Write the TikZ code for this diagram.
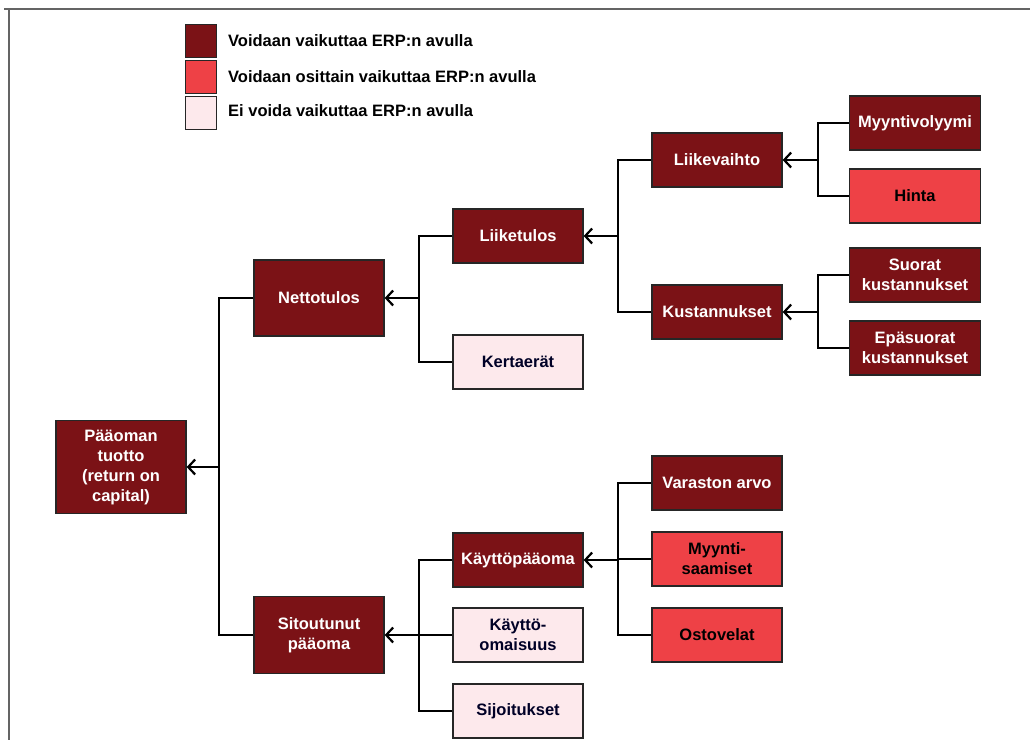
\documentclass[tikz,border=0pt]{standalone}
\usepackage{fontspec}
\setmainfont{Liberation Sans}
\usetikzlibrary{arrows.meta}

\definecolor{erpdark}{RGB}{123,18,22}
\definecolor{erppart}{RGB}{238,65,70}
\definecolor{erpnone}{RGB}{253,233,236}
\definecolor{framegray}{RGB}{100,100,100}

\tikzset{
  box/.style={draw=black!85, line width=1.3pt, minimum width=130pt, minimum height=54pt,
    align=center, inner sep=2pt, font=\fontsize{16.5}{20}\selectfont\bfseries},
  full/.style={box, fill=erpdark, text=white},
  part/.style={box, fill=erppart, text=black},
  none/.style={box, fill=erpnone, text=black!85!blue},
  legbox/.style={draw=black!85, line width=1.3pt, minimum width=31pt, minimum height=33pt, inner sep=0pt},
  legtext/.style={anchor=west, inner sep=0pt, font=\fontsize{16.5}{20}\selectfont\bfseries},
  link/.style={line width=2.2pt},
  feed/.style={line width=2.2pt, -{Straight Barb[length=7pt,width=15pt,line width=2.2pt]}},
}

\begin{document}
\begin{tikzpicture}[x=1pt, y=-1pt]
    \useasboundingbox (0,0) rectangle (1030,740);
    \draw[framegray, line width=2.5pt] (4,9) -- (1030,9);
    \draw[framegray, line width=2.5pt] (9,9) -- (9,740);

    % legend
    \node[legbox, fill=erpdark] (l1) at (201,41) {};
    \node[legbox, fill=erppart] (l2) at (201,77) {};
    \node[legbox, fill=erpnone] (l3) at (201,113) {};
    \node[legtext] at (228,41) {Voidaan vaikuttaa ERP:n avulla};
    \node[legtext] at (228,77) {Voidaan osittain vaikuttaa ERP:n avulla};
    \node[legtext] at (228,111) {Ei voida vaikuttaa ERP:n avulla};

    % boxes
    \node[full, minimum height=93pt] (root) at (121,467) {Pääoman\\tuotto\\(return on\\capital)};
    \node[full, minimum height=76pt] (net) at (319,298) {Nettotulos};
    \node[full, minimum height=77pt] (sit) at (319,635) {Sitoutunut\\pääoma};

    \node[full] (liike) at (518,236) {Liiketulos};
    \node[none] (kerta) at (518,362) {Kertaerät};
    \node[full] (kpaa) at (518,560) {Käyttöpääoma};
    \node[none] (kom) at (518,635) {Käyttö-\\omaisuus};
    \node[none] (sijo) at (518,711) {Sijoitukset};

    \node[full] (lv) at (717,160) {Liikevaihto};
    \node[full] (kust) at (717,312) {Kustannukset};
    \node[full] (var) at (717,483) {Varaston arvo};
    \node[part] (msaa) at (717,559) {Myynti-\\saamiset};
    \node[part] (osto) at (717,635) {Ostovelat};

    \node[full, minimum width=131pt] (mvol) at (915,123) {Myyntivolyymi};
    \node[part, minimum width=131pt] (hinta) at (915,196) {Hinta};
    \node[full, minimum width=131pt] (suo) at (915,275) {Suorat\\kustannukset};
    \node[full, minimum width=131pt] (epa) at (915,348) {Epäsuorat\\kustannukset};

    % bus points
    \coordinate (broot) at (219,467);
    \coordinate (bnet) at (419,298);
    \coordinate (bsit) at (419,635);
    \coordinate (bliike) at (618,236);
    \coordinate (bkpaa) at (618,560);
    \coordinate (blv) at (818,160);
    \coordinate (bkust) at (818,312);

    % connectors
    \draw[feed] (broot) -- (root.east);
    \draw[link] (net.west) -| (broot);
    \draw[link] (sit.west) -| (broot);

    \draw[feed] (bnet) -- (net.east);
    \draw[link] (liike.west) -| (bnet);
    \draw[link] (kerta.west) -| (bnet);

    \draw[feed] (bsit) -- (sit.east);
    \draw[link] (kpaa.west) -| (bsit);
    \draw[link] (kom.west) -- (bsit);
    \draw[link] (sijo.west) -| (bsit);

    \draw[feed] (bliike) -- (liike.east);
    \draw[link] (lv.west) -| (bliike);
    \draw[link] (kust.west) -| (bliike);

    \draw[feed] (bkpaa) -- (kpaa.east);
    \draw[link] (var.west) -| (bkpaa);
    \draw[link] (msaa.west) -| (bkpaa);
    \draw[link] (osto.west) -| (bkpaa);

    \draw[feed] (blv) -- (lv.east);
    \draw[link] (mvol.west) -| (blv);
    \draw[link] (hinta.west) -| (blv);

    \draw[feed] (bkust) -- (kust.east);
    \draw[link] (suo.west) -| (bkust);
    \draw[link] (epa.west) -| (bkust);
\end{tikzpicture}
\end{document}
